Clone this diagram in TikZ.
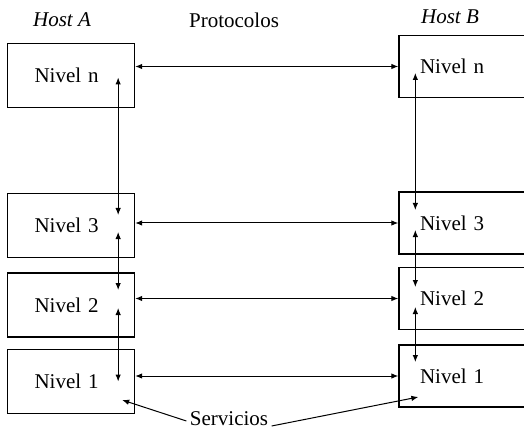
\documentclass[tikz,border=0pt]{standalone}
\usepackage{fontspec}
\setmainfont{Liberation Serif}
\usetikzlibrary{arrows.meta}

\begin{document}
\begin{tikzpicture}[x=1pt,y=-1pt,>={Latex[length=7pt,width=5.5pt]},
  nivA/.style={draw,line width=1.3pt,rectangle,minimum height=64pt,text width=73pt,inner xsep=27pt,align=left,font=\fontsize{21}{25}\selectfont},
  nivB/.style={nivA,minimum height=62pt,text width=90pt,inner xsep=21pt},
  tit/.style={font=\fontsize{21}{25}\selectfont},
  con/.style={line width=1pt}]
\clip (0,0) rectangle (524,438);

%%%%%
\node[tit] (hA) at (62,20) {\textit{Host A}};
\node[tit] (prot) at (234,20) {Protocolos};
\node[tit] (hB) at (450,17) {\textit{Host B}};

%%%%%
\node[nivA] (An) at (71,75.5) {Nivel n};
\node[nivA] (A3) at (71,225.5) {Nivel 3};
\node[nivA] (A2) at (71,305) {Nivel 2};
\node[nivA] (A1) at (71,381.5) {Nivel 1};

\node[nivB] (Bn) at (465,66.5) {Nivel n};
\node[nivB] (B3) at (465,223) {Nivel 3};
\node[nivB] (B2) at (465,298.5) {Nivel 2};
\node[nivB] (B1) at (465,376) {Nivel 1};

%%%%%
\draw[con,<->] (An.east |- Bn.west) -- (Bn.west);
\draw[con,<->] (A3.east |- B3.west) -- (B3.west);
\draw[con,<->] (A2.east |- B2.west) -- (B2.west);
\draw[con,<->] (A1.east |- B1.west) -- (B1.west);

%%%%%
\draw[con,<->] ([xshift=-17pt,yshift=-2pt]An.east) -- ([xshift=-17pt,yshift=10.5pt]A3.east);
\draw[con,<->] ([xshift=-17pt,yshift=-6.5pt]A3.east) -- ([xshift=-17pt,yshift=15pt]A2.east);
\draw[con,<->] ([xshift=-17pt,yshift=-3pt]A2.east) -- ([xshift=-17pt]A1.east);

\draw[con,<->] ([xshift=17pt,yshift=-6.5pt]Bn.west) -- ([xshift=17pt,yshift=13pt]B3.west);
\draw[con,<->] ([xshift=17pt,yshift=-7pt]B3.west) -- ([xshift=17pt,yshift=11.5pt]B2.west);
\draw[con,<->] ([xshift=17pt,yshift=-8.5pt]B2.west) -- ([xshift=17pt,yshift=14pt]B1.west);

%%%%%
\node[tit] (serv) at (229,419) {Servicios};
\draw[con,->] ([yshift=-2pt]serv.west) -- ([xshift=-13pt,yshift=-18.5pt]A1.east);
\draw[con,->] ([yshift=-7pt]serv.east) -- ([xshift=20pt,yshift=-21pt]B1.west);

\end{tikzpicture}
\end{document}
